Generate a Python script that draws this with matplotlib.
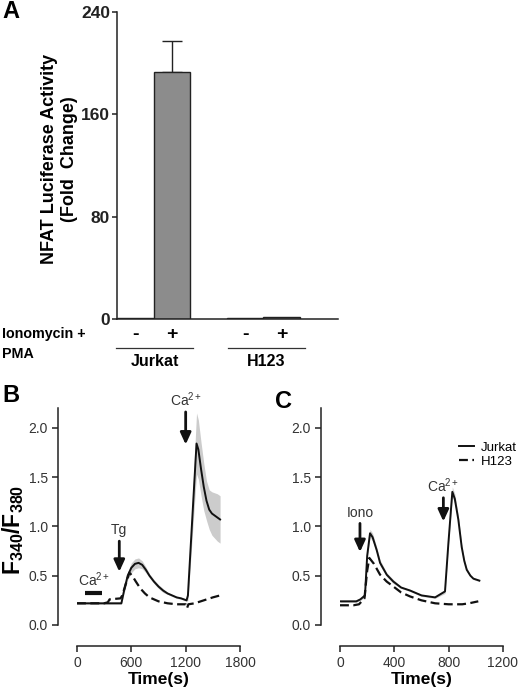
import matplotlib
matplotlib.use("Agg")
import matplotlib.pyplot as plt
import numpy as np
from matplotlib.lines import Line2D

plt.rcParams['font.family'] = ['Liberation Sans', 'DejaVu Sans']
plt.rcParams['mathtext.fontset'] = 'custom'
plt.rcParams['mathtext.rm'] = 'Liberation Sans'
plt.rcParams['mathtext.bf'] = 'Liberation Sans:bold'
plt.rcParams['mathtext.it'] = 'Liberation Sans:italic'

# ---------------- Data ----------------
# Panel A
bar_groups = ["Jurkat", "H123"]
bar_treat = ["-", "+", "-", "+"]
bar_values = [1.0, 193.0, 0.6, 1.5]
bar_errors = [0.0, 24.0, 0.0, 0.0]
bar_colors = ["white", "#8c8c8c", "white", "#8c8c8c"]
a_yticks = [0, 80, 160, 240]

# Panel B
b_jur_t = [0, 100, 200, 300, 400, 490, 520, 560, 600, 640, 680, 720, 760, 800, 850, 900,
           950, 1000, 1050, 1100, 1150, 1210, 1225, 1320, 1340, 1370, 1400, 1430, 1460,
           1490, 1520, 1550, 1580]
b_jur_v = [0.22, 0.22, 0.22, 0.22, 0.22, 0.22, 0.35, 0.50, 0.58, 0.62, 0.63, 0.61, 0.56,
           0.50, 0.44, 0.39, 0.35, 0.32, 0.30, 0.28, 0.27, 0.25, 0.30, 1.84, 1.78, 1.58,
           1.40, 1.26, 1.17, 1.13, 1.11, 1.09, 1.07]
b_jur_sem = [0.01, 0.01, 0.01, 0.01, 0.01, 0.01, 0.03, 0.04, 0.05, 0.05, 0.05, 0.04, 0.03,
             0.02, 0.02, 0.02, 0.02, 0.01, 0.01, 0.01, 0.01, 0.01, 0.05, 0.31, 0.30, 0.27,
             0.24, 0.20, 0.20, 0.22, 0.23, 0.24, 0.24]
b_h_t = [0, 100, 200, 300, 340, 360, 480, 500, 540, 578, 610, 650, 700, 750, 800, 850, 900,
         1000, 1100, 1200, 1215, 1230, 1300, 1400, 1500, 1580]
b_h_v = [0.22, 0.22, 0.22, 0.22, 0.23, 0.26, 0.27, 0.30, 0.42, 0.53, 0.50, 0.44, 0.37, 0.32,
         0.28, 0.26, 0.24, 0.22, 0.21, 0.21, 0.17, 0.21, 0.22, 0.25, 0.28, 0.30]

# Panel C
c_jur_t = [0, 60, 120, 150, 184, 200, 221, 240, 270, 295, 344, 393, 450, 515, 600, 700, 773,
           798, 827, 845, 871, 896, 915, 933, 960, 982, 1026]
c_jur_v = [0.24, 0.24, 0.24, 0.26, 0.30, 0.70, 0.93, 0.89, 0.76, 0.63, 0.51, 0.44, 0.38,
           0.35, 0.30, 0.28, 0.34, 0.83, 1.35, 1.28, 1.07, 0.79, 0.65, 0.56, 0.50, 0.47, 0.45]
c_jur_sem = [0.01, 0.01, 0.01, 0.01, 0.02, 0.03, 0.04, 0.04, 0.03, 0.03, 0.02, 0.02, 0.01,
             0.01, 0.01, 0.01, 0.02, 0.03, 0.05, 0.05, 0.04, 0.03, 0.02, 0.02, 0.01, 0.01, 0.01]
c_h_t = [0, 100, 140, 180, 200, 216, 250, 295, 344, 393, 450, 515, 600, 700, 800, 900, 950, 1018]
c_h_v = [0.20, 0.20, 0.21, 0.27, 0.55, 0.68, 0.62, 0.51, 0.44, 0.39, 0.33, 0.29, 0.25, 0.22,
         0.21, 0.21, 0.22, 0.24]

bc_yticks = [0.0, 0.5, 1.0, 1.5, 2.0]
b_xticks = [0, 600, 1200, 1800]
c_xticks = [0, 400, 800, 1200]

# ---------------- Figure ----------------
fig = plt.figure(figsize=(5.2, 6.91), dpi=100)
W, H = 520, 691

def ax_rect(x0, y0, x1, y1):
    return [x0 / W, 1 - y1 / H, (x1 - x0) / W, (y1 - y0) / H]

# Panel A
axA = fig.add_axes(ax_rect(117, 12, 338, 319))
xpos = [0, 1, 3, 4]
axA.bar(xpos, bar_values, width=1.0, color=bar_colors, edgecolor="#222222", linewidth=1.0,
        zorder=2)
axA.errorbar([xpos[1]], [bar_values[1]], yerr=[[0], [bar_errors[1]]], fmt="none",
             ecolor="#222222", elinewidth=1.0, capsize=7.5, capthick=1.0, zorder=1)
axA.set_xlim(-0.5, 5.54)
axA.set_ylim(0, 240)
axA.set_yticks(a_yticks)
axA.set_yticklabels([str(v) for v in a_yticks], fontsize=12.5, fontweight="bold")
axA.set_xticks([])
for s in ["top", "right"]:
    axA.spines[s].set_visible(False)
for s in ["left", "bottom"]:
    axA.spines[s].set_linewidth(1.1)
    axA.spines[s].set_color("#222222")
axA.tick_params(axis="y", direction="out", length=3.5, width=1.1, pad=1.5, colors="#222222")
axA.set_ylabel("NFAT Luciferase Activity\n(Fold  Change)", fontsize=13, fontweight="bold",
               linespacing=1.3, va="center")
axA.yaxis.set_label_coords(-0.26, 0.52)
trA = axA.get_xaxis_transform()
for x, t in zip(xpos, bar_treat):
    axA.text(x, -0.052, t, transform=trA, ha="center", va="center", fontsize=14,
             fontweight="bold", clip_on=False)
group_spans = [(-0.52, 1.59), (2.53, 4.63)]
for (g0, g1), name in zip(group_spans, bar_groups):
    axA.add_line(Line2D([g0, g1], [-0.094, -0.094], transform=trA, color="#333333",
                        lw=0.9, clip_on=False))
    axA.text((g0 + g1) / 2, -0.138, name, transform=trA, ha="center", va="center",
             fontsize=11.5, fontweight="bold", clip_on=False)
fig.text(2 / W, 1 - 334 / H, "Ionomycin +", fontsize=10.3, fontweight="bold",
         ha="left", va="center")
fig.text(2 / W, 1 - 354 / H, "PMA", fontsize=10.3, fontweight="bold",
         ha="left", va="center")
fig.text(2 / W, 1 - 12 / H, "A", fontsize=17, fontweight="bold", ha="left", va="center")

# Panels B and C
def style_trace_axes(ax, xticks, xlim):
    ax.set_xlim(*xlim)
    ax.set_ylim(0, 2.2)
    ax.set_yticks(bc_yticks)
    ax.set_yticklabels(["%.1f" % v for v in bc_yticks], fontsize=11.5, color="#333333")
    ax.set_xticks(xticks)
    ax.set_xticklabels([str(v) for v in xticks], fontsize=11.5, color="#333333")
    for s in ["top", "right"]:
        ax.spines[s].set_visible(False)
    ax.spines["left"].set_position(("outward", 14))
    ax.spines["bottom"].set_position(("outward", 15))
    ax.spines["left"].set_bounds(0, 2.2)
    for s in ["left", "bottom"]:
        ax.spines[s].set_linewidth(1.1)
        ax.spines[s].set_color("#222222")
    ax.tick_params(direction="out", length=4, width=1.1, pad=3, colors="#222222",
                   labelcolor="#333333")
    ax.set_xlabel("Time(s)", fontsize=12.5, fontweight="bold", labelpad=2)

def arrow(ax, x, y_top, y_tip, label, dy_label=0.07):
    ax.annotate("", xy=(x, y_tip), xytext=(x, y_top),
                arrowprops=dict(arrowstyle="-|>,head_length=0.7,head_width=0.32",
                                color="#111111", lw=2.0, shrinkA=0, shrinkB=0))
    ax.text(x, y_top + dy_label, label, ha="center", va="bottom", fontsize=10,
            color="#333333")

axB = fig.add_axes(ax_rect(77, 408, 240, 625))
axB.fill_between(b_jur_t, np.array(b_jur_v) - np.array(b_jur_sem),
                 np.array(b_jur_v) + np.array(b_jur_sem), color="#cccccc", lw=0, zorder=1)
axB.plot(b_jur_t, b_jur_v, color="#111111", lw=1.4, zorder=3)
axB.plot(b_h_t, b_h_v, color="#111111", lw=1.6, ls=(0, (4, 2)), zorder=2)
style_trace_axes(axB, b_xticks, (0, 1800))
arrow(axB, 467, 0.85, 0.54, "Tg", dy_label=0.04)
arrow(axB, 1200, 2.16, 1.83, "Ca$^{2+}$", dy_label=0.03)
axB.plot([88, 280], [0.32, 0.32], color="#111111", lw=3, solid_capstyle="butt")
axB.text(184, 0.37, "Ca$^{2+}$", ha="center", va="bottom", fontsize=10, color="#333333")
fig.text(2 / W, 1 - 395 / H, "B", fontsize=17, fontweight="bold", ha="left", va="center")
fig.text(13 / W, 1 - 530 / H, r"$\mathbf{F_{340}/F_{380}}$", fontsize=16.5, rotation=90,
         ha="center", va="center")

axC = fig.add_axes(ax_rect(340, 408, 503, 625))
axC.fill_between(c_jur_t, np.array(c_jur_v) - np.array(c_jur_sem),
                 np.array(c_jur_v) + np.array(c_jur_sem), color="#cccccc", lw=0, zorder=1)
axC.plot(c_jur_t, c_jur_v, color="#111111", lw=1.4, zorder=3, label="Jurkat")
axC.plot(c_h_t, c_h_v, color="#111111", lw=1.6, ls=(0, (4, 2)), zorder=2, label="H123")
style_trace_axes(axC, c_xticks, (0, 1200))
arrow(axC, 147, 1.03, 0.74, "Iono", dy_label=0.03)
arrow(axC, 761, 1.29, 1.05, "Ca$^{2+}$", dy_label=0.03)
axC.legend(loc="upper left", bbox_to_anchor=(0.70, 0.87), frameon=False, fontsize=9.5,
           handlelength=1.1, handletextpad=0.5, labelspacing=0.15, borderaxespad=0)
fig.text(283 / W, 1 - 402 / H, "C", fontsize=17, fontweight="bold", ha="center", va="center")

fig.savefig("out.png", dpi=100)
